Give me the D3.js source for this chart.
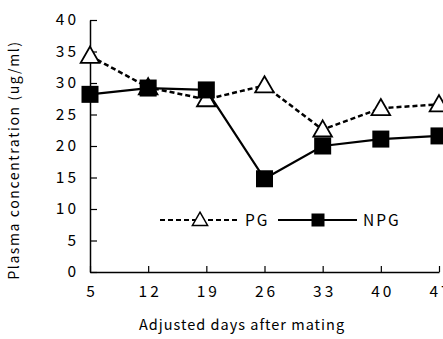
<!DOCTYPE html>
<html>
<head>
<meta charset="utf-8">
<script src="https://cdn.jsdelivr.net/npm/d3@7"></script>
<style>
  html, body { margin: 0; padding: 0; background: #fff; }
  svg { display: block; }
  text { font-family: "Noto Sans CJK JP", "DejaVu Sans", sans-serif; fill: #000; }
</style>
</head>
<body>
<svg id="chart" width="443" height="339"></svg>
<script>
// Adjusted days after mating
const days = [5, 12, 19, 26, 33, 40, 47];
// Plasma concentration (ug/ml)
const pgValues  = [34.3, 29.3, 27.4, 29.6, 22.6, 26.0, 26.6];
const npgValues = [28.2, 29.2, 28.9, 14.8, 20.0, 21.1, 21.6];
const yTicks = [0, 5, 10, 15, 20, 25, 30, 35, 40];
const seriesNames = ["PG", "NPG"];

const svg = d3.select("#chart");
const plotLeft = 90, plotRight = 439, plotTop = 20, plotBottom = 272;

const x = d3.scaleLinear().domain([5, 47]).range([plotLeft, plotRight]);
const y = d3.scaleLinear().domain([0, 40]).range([plotBottom, plotTop]);

// Axes with inward ticks
const yAxis = svg.append("g").attr("transform", `translate(${plotLeft},0)`)
  .call(d3.axisLeft(y).tickValues(yTicks).tickSizeInner(-7).tickSizeOuter(0).tickPadding(14));
const xAxis = svg.append("g").attr("transform", `translate(0,${plotBottom})`)
  .call(d3.axisBottom(x).tickValues(days).tickSizeInner(-6).tickSizeOuter(0).tickPadding(11));

[yAxis, xAxis].forEach(g => {
  g.select(".domain").attr("stroke", "#000").attr("stroke-width", 1.5);
  g.selectAll(".tick line").attr("stroke", "#000").attr("stroke-width", 1.2);
  g.selectAll(".tick text")
    .style("font-size", "15.5px")
    .style("letter-spacing", "3px")
    .attr("fill", "#000");
});
yAxis.selectAll(".tick text").attr("dx", "3px");
xAxis.selectAll(".tick text").attr("dy", "0.9em").attr("dx", "1.5px");

// Axis titles
svg.append("text")
  .attr("x", 242).attr("y", 330)
  .attr("text-anchor", "middle")
  .style("font-size", "14.5px")
  .style("letter-spacing", "1px")
  .text("Adjusted days after mating");

svg.append("text")
  .attr("transform", `translate(19,160) rotate(-90)`)
  .attr("text-anchor", "middle")
  .style("font-size", "14px")
  .style("letter-spacing", "1.6px")
  .text("Plasma concentration (ug/ml)");

const line = d3.line().x((d, i) => x(days[i])).y(d => y(d));

// PG: dashed line with open triangles
svg.append("path")
  .datum(pgValues)
  .attr("d", line)
  .attr("fill", "none")
  .attr("stroke", "#000")
  .attr("stroke-width", 2.5)
  .attr("stroke-dasharray", "5,3");

const tri = d3.symbol().type(d3.symbolTriangle).size(150);
svg.append("g").selectAll("path")
  .data(pgValues)
  .join("path")
  .attr("d", tri)
  .attr("transform", (d, i) => `translate(${x(days[i])},${y(d) + 1.5})`)
  .attr("fill", "#fff")
  .attr("stroke", "#000")
  .attr("stroke-width", 1.8);

// NPG: solid line with filled squares
svg.append("path")
  .datum(npgValues)
  .attr("d", line)
  .attr("fill", "none")
  .attr("stroke", "#000")
  .attr("stroke-width", 2.2);

const sq = 17;
svg.append("g").selectAll("rect")
  .data(npgValues)
  .join("rect")
  .attr("x", (d, i) => x(days[i]) - sq / 2)
  .attr("y", d => y(d) - sq / 2)
  .attr("width", sq)
  .attr("height", sq)
  .attr("fill", "#000");

// Legend
const legY = 220;
const leg = svg.append("g");
leg.append("line")
  .attr("x1", 160).attr("x2", 238).attr("y1", legY).attr("y2", legY)
  .attr("stroke", "#000").attr("stroke-width", 2.2).attr("stroke-dasharray", "5,3");
leg.append("path")
  .attr("d", d3.symbol().type(d3.symbolTriangle).size(100))
  .attr("transform", `translate(200,${legY + 1})`)
  .attr("fill", "#fff").attr("stroke", "#000").attr("stroke-width", 1.5);
leg.append("text")
  .attr("x", 245).attr("y", legY + 6)
  .style("font-size", "15.5px").style("letter-spacing", "2px")
  .text(seriesNames[0]);
leg.append("line")
  .attr("x1", 278).attr("x2", 357).attr("y1", legY).attr("y2", legY)
  .attr("stroke", "#000").attr("stroke-width", 2);
leg.append("rect")
  .attr("x", 318 - 6.5).attr("y", legY - 6.5).attr("width", 13).attr("height", 13)
  .attr("fill", "#000");
leg.append("text")
  .attr("x", 363).attr("y", legY + 6)
  .style("font-size", "15.5px").style("letter-spacing", "2px")
  .text(seriesNames[1]);
</script>
</body>
</html>
